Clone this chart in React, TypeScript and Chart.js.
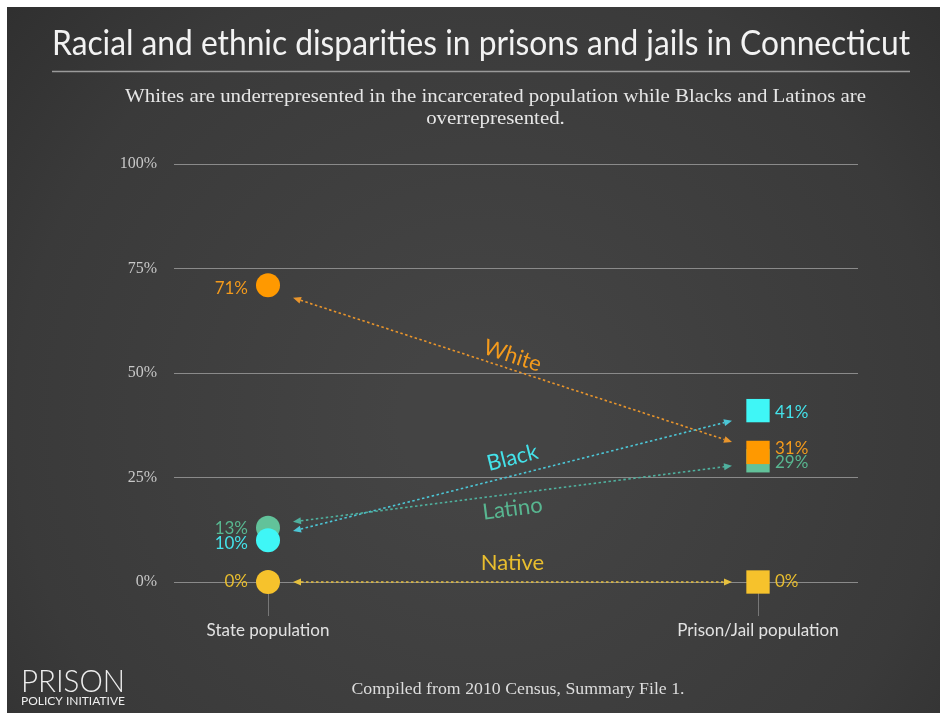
import React, { useEffect, useRef } from "react";
import { Chart, registerables } from "chart.js";

Chart.register(...registerables);

// ---- data ----
const categories = ["State population", "Prison/Jail population"];
const groups = ["White", "Black", "Latino", "Native"];
const statePct = [71, 10, 13, 0];
const prisonPct = [31, 41, 29, 0];
// where the dotted arrows start/end (in %)
const arrowStatePct = [68, 12.2, 14.4, 0];
const arrowPrisonPct = [33.5, 38.6, 27.8, 0];
const yTicks = [0, 25, 50, 75, 100];

const titleText = "Racial and ethnic disparities in prisons and jails in Connecticut";
const subtitleLines = [
  "Whites are underrepresented in the incarcerated population while Blacks and Latinos are",
  "overrepresented.",
];
const footerText = "Compiled from 2010 Census, Summary File 1.";

// ---- styles ----
const markerColors = ["#FF9900", "#3FF6F6", "#62C29A", "#F6C22C"];
const labelColors = ["#F39A1C", "#44E2EA", "#58B690", "#E9BE2E"];
const arrowColors = ["#E9952C", "#4CC6D6", "#4FB09E", "#E6C03E"];
// Chart.js paints dataset 0 last (on top)
const drawOrder = [3, 1, 0, 2];
const leftLabelNudge = [3, 3, 1, 0];
const rightLabelNudge = [-4, 2, 2, 0];
const arrowLabelOffset = [-14, -18, 15, -19];

const SANS = "Lato, 'Open Sans', sans-serif";
const SERIF = "'Liberation Serif', 'DejaVu Serif', serif";

function fitText(
  ctx: CanvasRenderingContext2D,
  text: string,
  x: number,
  y: number,
  width: number | null,
  align: CanvasTextAlign,
  sxOverride?: number
) {
  ctx.save();
  ctx.textAlign = align;
  const w = ctx.measureText(text).width;
  const sx = sxOverride ?? (width ? width / w : 1);
  ctx.translate(x, y);
  ctx.scale(sx, 1);
  ctx.fillText(text, 0, 0);
  ctx.restore();
  return sx;
}

function drawArrow(
  ctx: CanvasRenderingContext2D,
  x1: number,
  y1: number,
  x2: number,
  y2: number,
  color: string
) {
  const ang = Math.atan2(y2 - y1, x2 - x1);
  const hl = 8;
  const hw = 3.5;
  const cos = Math.cos(ang);
  const sin = Math.sin(ang);
  ctx.save();
  ctx.strokeStyle = color;
  ctx.fillStyle = color;
  ctx.lineWidth = 1.6;
  ctx.setLineDash([2.5, 2.5]);
  ctx.beginPath();
  ctx.moveTo(x1 + cos * hl, y1 + sin * hl);
  ctx.lineTo(x2 - cos * hl, y2 - sin * hl);
  ctx.stroke();
  ctx.setLineDash([]);
  const head = (tx: number, ty: number, dir: number) => {
    const bx = tx - dir * cos * hl;
    const by = ty - dir * sin * hl;
    ctx.beginPath();
    ctx.moveTo(tx, ty);
    ctx.lineTo(bx - sin * hw, by + cos * hw);
    ctx.lineTo(bx + sin * hw, by - cos * hw);
    ctx.closePath();
    ctx.fill();
  };
  head(x2, y2, 1);
  head(x1, y1, -1);
  ctx.restore();
}

const decorPlugin = {
  id: "decor",
  beforeDraw(chart: any) {
    const ctx: CanvasRenderingContext2D = chart.ctx;
    const W = chart.width;
    const H = chart.height;
    ctx.save();
    ctx.fillStyle = "#ffffff";
    ctx.fillRect(0, 0, W, H);
    const g = ctx.createRadialGradient(480, 420, 80, 480, 420, 720);
    g.addColorStop(0, "#444444");
    g.addColorStop(0.6, "#3a3a3a");
    g.addColorStop(1, "#2a2a2a");
    ctx.fillStyle = g;
    ctx.fillRect(7, 7, W - 7, H - 7);
    ctx.restore();
  },
  beforeDatasetsDraw(chart: any) {
    const ctx: CanvasRenderingContext2D = chart.ctx;
    const xs = chart.scales.x;
    const ys = chart.scales.y;
    const xl = xs.getPixelForValue(0) + 25;
    const xr = xs.getPixelForValue(1) - 26;
    groups.forEach((name, i) => {
      const y1 = ys.getPixelForValue(arrowStatePct[i]);
      const y2 = ys.getPixelForValue(arrowPrisonPct[i]);
      drawArrow(ctx, xl, y1, xr, y2, arrowColors[i]);
      // group label along arrow
      const ang = Math.atan2(y2 - y1, xr - xl);
      const mx = (xl + xr) / 2;
      const my = (y1 + y2) / 2;
      const off = arrowLabelOffset[i];
      ctx.save();
      ctx.translate(mx, my + off);
      ctx.rotate(ang);
      ctx.fillStyle = labelColors[i];
      ctx.font = `22px ${SANS}`;
      ctx.textAlign = "center";
      ctx.textBaseline = "middle";
      ctx.fillText(name, 0, 0);
      ctx.restore();
    });
  },
  afterDraw(chart: any) {
    const ctx: CanvasRenderingContext2D = chart.ctx;
    const xs = chart.scales.x;
    const ys = chart.scales.y;
    ctx.save();
    // value labels
    ctx.font = `17px ${SANS}`;
    ctx.textBaseline = "middle";
    groups.forEach((_, i) => {
      ctx.fillStyle = labelColors[i];
      ctx.textAlign = "right";
      ctx.fillText(
        `${statePct[i]}%`,
        xs.getPixelForValue(0) - 20,
        ys.getPixelForValue(statePct[i]) + leftLabelNudge[i]
      );
      ctx.textAlign = "left";
      ctx.fillText(
        `${prisonPct[i]}%`,
        xs.getPixelForValue(1) + 17,
        ys.getPixelForValue(prisonPct[i]) + rightLabelNudge[i]
      );
    });

    // title
    ctx.textBaseline = "alphabetic";
    ctx.fillStyle = "#f2f2f2";
    ctx.font = `34px ${SANS}`;
    fitText(ctx, titleText, 481, 55, 858, "center");
    ctx.strokeStyle = "#9a9a9a";
    ctx.lineWidth = 1.5;
    ctx.beginPath();
    ctx.moveTo(52, 71.5);
    ctx.lineTo(910, 71.5);
    ctx.stroke();

    // subtitle
    ctx.fillStyle = "#e6e6e6";
    ctx.font = `19px ${SERIF}`;
    const sx = fitText(ctx, subtitleLines[0], 495.5, 102, 741, "center");
    fitText(ctx, subtitleLines[1], 495.5, 124, null, "center", sx);

    // footer
    ctx.fillStyle = "#dddddd";
    ctx.font = `17px ${SERIF}`;
    fitText(ctx, footerText, 518, 694, 333, "center");

    // logo
    ctx.fillStyle = "#eeeeee";
    ctx.font = `300 32px ${SANS}`;
    fitText(ctx, "PRISON", 21, 692, 104, "left");
    ctx.font = `12px ${SANS}`;
    fitText(ctx, "POLICY INITIATIVE", 21, 705, 104, "left");
    ctx.restore();
  },
};

export default function App() {
  const ref = useRef<HTMLCanvasElement | null>(null);

  useEffect(() => {
    if (!ref.current) return;
    const datasets = drawOrder.map((i) => ({
      label: groups[i],
      data: [
        { x: 0, y: statePct[i] },
        { x: 1, y: prisonPct[i] },
      ],
      pointStyle: ["circle", "rect"],
      pointRadius: [12, 16.5],
      pointBackgroundColor: markerColors[i],
      pointBorderWidth: 0,
      showLine: false,
      clip: false,
    }));

    const chart = new Chart(ref.current, {
      type: "scatter",
      data: { datasets },
      plugins: [decorPlugin],
      options: {
        responsive: false,
        animation: false,
        events: [],
        layout: { padding: { left: 0, right: 82, top: 164, bottom: 71 } },
        plugins: {
          legend: { display: false },
          tooltip: { enabled: false },
          title: { display: false },
        },
        scales: {
          x: {
            type: "linear",
            min: -94 / 490,
            max: 1 + 100 / 490,
            afterBuildTicks: (scale: any) => {
              scale.ticks = categories.map((_, i) => ({ value: i }));
            },
            afterFit: (scale: any) => {
              scale.height = 60;
            },
            border: { display: false },
            grid: {
              drawOnChartArea: false,
              drawTicks: true,
              tickLength: 34,
              tickColor: "#777777",
              tickWidth: 1,
            },
            ticks: {
              color: "#e2e2e2",
              font: { family: SANS, size: 17 },
              padding: 4,
              maxRotation: 0,
              autoSkip: false,
              callback: (v: any) => categories[v as number] ?? "",
            },
          },
          y: {
            type: "linear",
            min: 0,
            max: 100,
            afterBuildTicks: (scale: any) => {
              scale.ticks = yTicks.map((v) => ({ value: v }));
            },
            afterFit: (scale: any) => {
              scale.width = 174;
            },
            border: { display: false },
            grid: {
              color: "#8a8a8a",
              lineWidth: 1,
              drawTicks: false,
            },
            ticks: {
              color: "#c8c8c8",
              font: { family: SERIF, size: 16 },
              padding: 17,
              callback: (v: any) => `${v}%`,
            },
          },
        },
      },
    } as any);
    return () => chart.destroy();
  }, []);

  return (
    <div
      style={{
        position: "fixed",
        left: 0,
        top: 0,
        width: 940,
        height: 713,
        background: "#fff",
      }}
    >
      <canvas ref={ref} width={940} height={713} style={{ display: "block" }} />
    </div>
  );
}
